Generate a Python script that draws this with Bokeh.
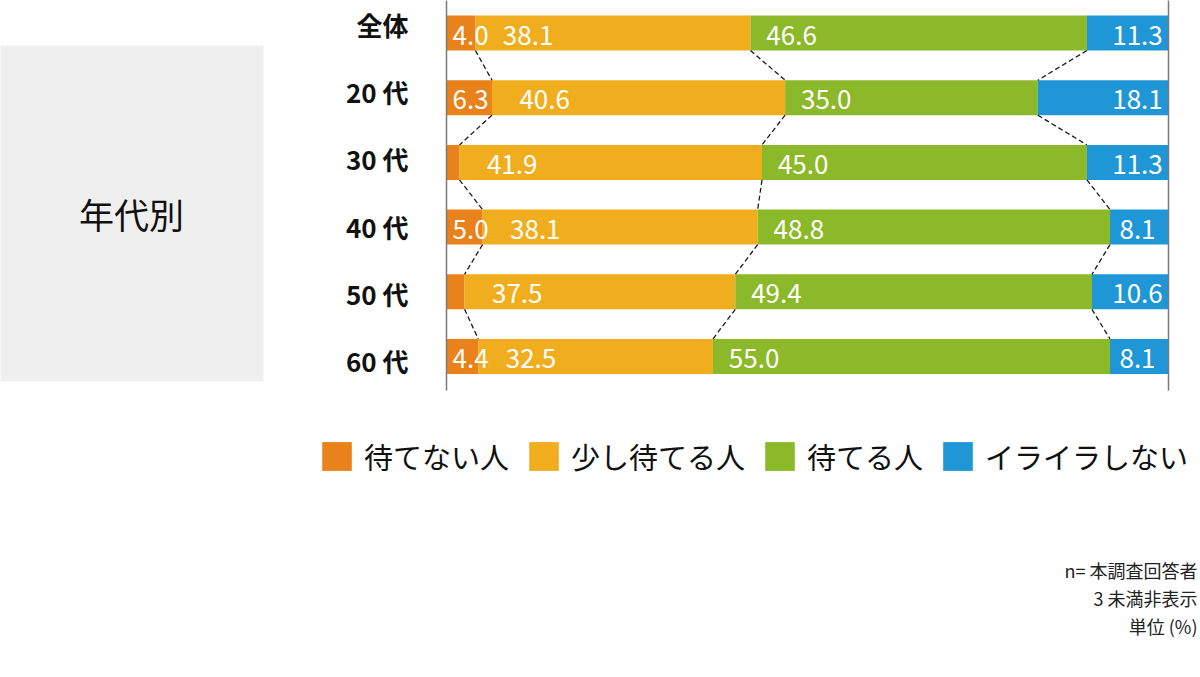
from bokeh.plotting import figure
from bokeh.models import Range1d, Legend, LegendItem, Label, BoxAnnotation
from bokeh.core.properties import value
from bokeh.embed import file_html
from bokeh.resources import INLINE

# ---------------- data ----------------
categories = ["全体", "20 代", "30 代", "40 代", "50 代", "60 代"]
series_names = ["待てない人", "少し待てる人", "待てる人", "イライラしない"]
cannot_wait = [4.0, 6.3, 1.8, 5.0, 2.5, 4.4]
little_wait = [38.1, 40.6, 41.9, 38.1, 37.5, 32.5]
can_wait = [46.6, 35.0, 45.0, 48.8, 49.4, 55.0]
not_irritated = [11.3, 18.1, 11.3, 8.1, 10.6, 8.1]
axis_limits = [0, 100]
hide_below = 3.0
group_title = "年代別"
notes = ["n= 本調査回答者", "3 未満非表示", "単位 (%)"]

series = [cannot_wait, little_wait, can_wait, not_irritated]
colors = ["#E9821A", "#F0AE1F", "#8BB92A", "#1F96D5"]

JP = "Noto Sans CJK JP"
W, H = 1200, 677
PX = 7.22          # pixels per percent
X0 = 446           # px of 0 %
ROW0, PITCH = 32.5, 64.7
BAR_H = 35 / PITCH


def X(px):
    return (px - X0) / PX


def Y(py):
    return (py - ROW0) / PITCH


p = figure(width=W, height=H, x_range=Range1d(X(0), X(W)),
           y_range=Range1d(Y(H), Y(0)),
           output_backend="svg", toolbar_location=None, min_border=0,
           x_axis_location=None, y_axis_location=None)
p.grid.visible = False
p.outline_line_color = None
p.background_fill_color = "white"

# grey group box
box = BoxAnnotation(left=X(-10), right=X(263), top=Y(45), bottom=Y(381),
                    fill_color="#EFEFEF", fill_alpha=1.0, line_color=None,
                    level="underlay")
p.add_layout(box)
p.add_layout(Label(x=X(131), y=Y(213), text=group_title, text_align="center",
                   text_baseline="middle", text_font=JP, text_font_size="35px",
                   text_color="#111111"))

ys = list(range(len(categories)))

# stacked bars
renderers = []
bounds = []
left = [0.0] * len(ys)
for name, vals, c in zip(series_names, series, colors):
    right = [l + v for l, v in zip(left, vals)]
    r = p.hbar(y=ys, left=left, right=right, height=BAR_H,
               fill_color=c, line_color=None)
    renderers.append(r)
    bounds.append(right)
    left = right

# frame lines at 0 and 100
p.segment(x0=axis_limits, x1=axis_limits, y0=[Y(-2)] * 2, y1=[Y(390)] * 2,
          line_color="#7A7A7A", line_width=1.5)

# dashed connectors between stack boundaries
cx0, cx1, cy0, cy1 = [], [], [], []
for k in range(3):
    for i in range(len(ys) - 1):
        cx0.append(bounds[k][i])
        cx1.append(bounds[k][i + 1])
        cy0.append(ys[i] + BAR_H / 2)
        cy1.append(ys[i + 1] - BAR_H / 2)
p.segment(x0=cx0, x1=cx1, y0=cy0, y1=cy1, line_color="#1A1A1A",
          line_width=1.3, line_dash="5 3")

# value labels
lx, ly, lt = [], [], []
for i in ys:
    if cannot_wait[i] >= hide_below:
        lx.append(X(452)); ly.append(i); lt.append(f"{cannot_wait[i]:.1f}")
    lx.append(bounds[0][i] + 3.8); ly.append(i); lt.append(f"{little_wait[i]:.1f}")
    lx.append(bounds[1][i] + 2.2); ly.append(i); lt.append(f"{can_wait[i]:.1f}")
p.text(x=lx, y=ly, text=lt, text_align="left", text_baseline="middle", y_offset=2,
       text_color="white", text_font=value(JP), text_font_size="26px")
p.text(x=[X(1137)] * len(ys), y=ys, text=[f"{v:.1f}" for v in not_irritated],
       text_align="center", text_baseline="middle", y_offset=2, text_color="white",
       text_font=value(JP), text_font_size="26px")

# category labels on their own scale
p.extra_y_ranges = {"cat": Range1d((H - 24) / 67.2, (0 - 24) / 67.2)}
p.text(x=[X(408)] * len(ys), y=ys, text=categories, y_range_name="cat",
       text_align="right", text_baseline="middle", text_font_style="bold",
       text_font=value(JP), text_font_size="26px", text_color="#111111")

# legend
legend = Legend(items=[LegendItem(label=value(n), renderers=[r])
                       for n, r in zip(series_names, renderers)],
                orientation="horizontal", location=(318, 200),
                glyph_width=37, glyph_height=36, label_standoff=9, spacing=16,
                padding=0, margin=0, border_line_color=None,
                background_fill_alpha=0, label_text_font=JP,
                label_text_font_size="29px", label_text_color="#111111")
p.add_layout(legend)

# notes
for t, py in zip(notes, [569, 597, 625]):
    p.add_layout(Label(x=X(1197), y=Y(py), text=t, text_align="right",
                       text_baseline="middle", text_font=JP,
                       text_font_size="18px", text_color="#222222"))

open("out.html", "w").write(file_html(p, INLINE))
